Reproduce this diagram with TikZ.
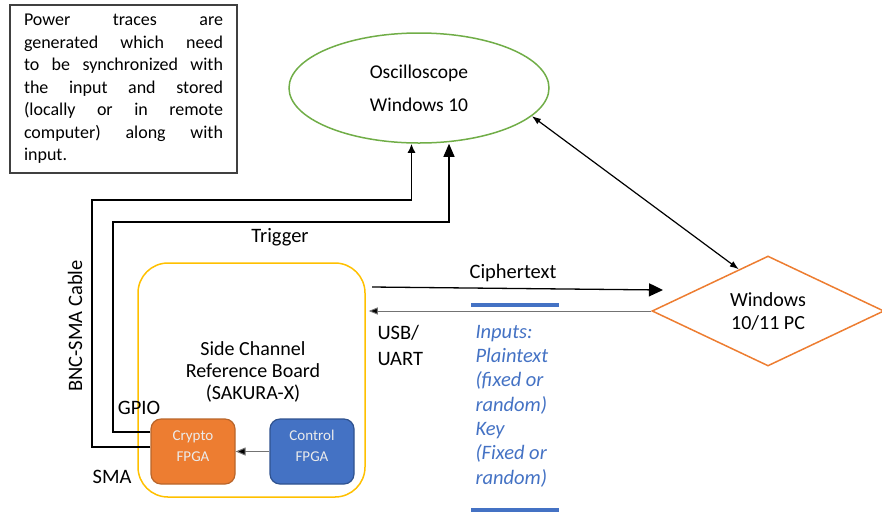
\documentclass[tikz,border=0pt]{standalone}
\usepackage{fontspec}
\setmainfont{Carlito}
\usetikzlibrary{shapes.geometric,arrows.meta,positioning}
\definecolor{scopegreen}{HTML}{70AD47}
\definecolor{boardyellow}{HTML}{FFC000}
\definecolor{fpgaorange}{HTML}{ED7D31}
\definecolor{fpgaorangeline}{HTML}{B9652A}
\definecolor{fpgablue}{HTML}{4472C4}
\definecolor{fpgablueline}{HTML}{2F528F}
\newcommand{\fsz}[2]{\fontsize{#1}{#2}\selectfont}

\begin{document}
\begin{tikzpicture}[x=1pt,y=-1pt,line width=1pt,
	notebox/.style={draw=black!75,line width=1.2pt,text width=199pt,inner xsep=14pt,inner ysep=0pt,minimum height=168pt,align=justify,font=\fsz{18}{22.5}},
	scopebox/.style={ellipse,draw=scopegreen,line width=1.5pt,minimum width=260pt,minimum height=110pt,inner sep=0pt,align=center,font=\fsz{19.5}{24}},
	pcbox/.style={diamond,draw=fpgaorange,line width=1.5pt,minimum width=232pt,minimum height=110pt,aspect=2.1,inner sep=0pt,align=center,font=\fsz{20}{23}},
	boardbox/.style={draw=boardyellow,line width=1.5pt,rounded corners=30pt,minimum width=227pt,minimum height=234pt},
	fpgabox/.style={rounded corners=10pt,line width=1.2pt,minimum width=84pt,minimum height=65pt,align=center,text depth=11pt,text=white!92!black,font=\fsz{15}{21}},
	lbl/.style={inner sep=0pt,font=\fsz{20.5}{26}},
	bncline/.style={line width=1.6pt,-{Latex[length=9pt,width=8pt]}},
	trigline/.style={line width=1.2pt,-{Triangle[length=13pt,width=11pt]}},
	ctline/.style={line width=1.3pt,-{Triangle[length=14pt,width=13pt]}},
	usbline/.style={line width=0.9pt,draw=black!55,-{Triangle[length=9pt,width=7pt,fill=black]}},
	ctrlline/.style={line width=1pt,draw=black!55,-{Triangle[length=10pt,width=8pt,fill=black]}},
	linkline/.style={line width=1.2pt,{Latex[length=9pt,width=6.5pt]}-{Latex[length=9pt,width=6.5pt]}}]
	\useasboundingbox (0,0) rectangle (882,512);

	%%Textfeld
	\node[notebox] (note) at (123.5,89) {Power traces are\linebreak generated which need\linebreak to be synchronized with\linebreak the input and stored\linebreak (locally or in remote\linebreak computer) along with\linebreak input.};

	%%Oszilloskop und PC
	\node[scopebox] (scope) at (419,88) {Oscilloscope\\[9pt]Windows 10};
	\node[pcbox] (pc) at (768,311) {Windows\\10/11 PC};

	%%Board
	\node[boardbox] (board) at (251.5,380) {};
	\node[lbl,align=center,font=\fsz{20}{22}] (boardtxt) at (253,372) {Side Channel\\Reference Board\\(SAKURA-X)};
	\node[fpgabox,fill=fpgaorange,draw=fpgaorangeline] (crypto) at (193,451.5) {Crypto\\FPGA};
	\node[fpgabox,fill=fpgablue,draw=fpgablueline] (control) at (312,451.5) {Control\\FPGA};
	\draw[ctrlline] (control.west) -- (crypto.east);

	%%Kabel
	\coordinate (bnc) at (92,200);
	\coordinate (trig) at (113,222);
	\draw[bncline] ([yshift=4.5pt]crypto.west) -| (bnc) -| ([xshift=-7.5pt]scope.south);
	\draw[trigline] ([yshift=19.5pt]crypto.west) -| (trig) -| ([xshift=30pt]scope.south);
	\node[lbl] (trigtxt) at (280,237) {Trigger};
	\node[lbl] (gpiotxt) at (139,408) {GPIO};
	\node[lbl] (smatxt) at (112,477) {SMA};
	\node[lbl,rotate=90] (bnctxt) at (75,326) {BNC-SMA Cable};

	%%Kommunikation
	\coordinate (ctstart) at (372,287);
	\coordinate (ctend) at (663,290);
	\draw[ctline] (ctstart) -- (ctend);
	\node[lbl] (cttxt) at (513,273) {Ciphertext};
	\draw[usbline] (pc.west) -- ([xshift=3pt]pc.west -| board.east);
	\node[lbl,anchor=west,align=left] (usbtxt) at (377,345) {USB/\\UART};
	\draw[linkline] (scope.-14) -- (pc.125);

	%%Eingaben
	\draw[fpgablue,line width=4pt] (471,305) -- (559,305);
	\draw[fpgablue,line width=4pt] (471,510) -- (559,510);
	\node[lbl,anchor=west,align=left,text=fpgablue,font=\fsz{20.5}{24.3}\itshape] (inputtxt) at (475,406) {Inputs:\\Plaintext\\(fixed or\\random)\\Key\\(Fixed or\\random)};
\end{tikzpicture}
\end{document}
